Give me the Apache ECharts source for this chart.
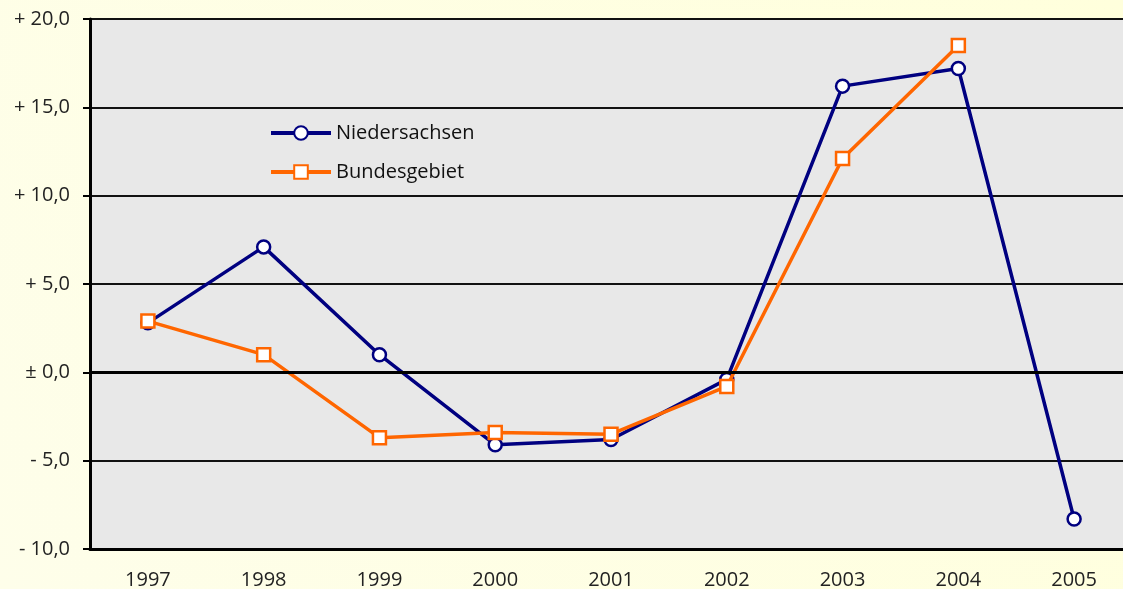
<!DOCTYPE html>
<html>
<head>
<meta charset="utf-8">
<script src="https://cdn.jsdelivr.net/npm/echarts@6/dist/echarts.min.js"></script>
<style>
  html, body { margin: 0; padding: 0; }
  #chart { width: 1123px; height: 589px; }
</style>
</head>
<body>
<div id="chart"></div>
<script>
// Jahre und Veränderungsraten (%)
var years = ['1997', '1998', '1999', '2000', '2001', '2002', '2003', '2004', '2005'];
var niedersachsen = [2.8, 7.1, 1.0, -4.1, -3.8, -0.4, 16.2, 17.2, -8.3];
var bundesgebiet = [2.9, 1.0, -3.7, -3.4, -3.5, -0.8, 12.1, 18.5, null];
var yTicks = { '20': '+ 20,0', '15': '+ 15,0', '10': '+ 10,0', '5': '+ 5,0', '0': '± 0,0', '-5': '- 5,0', '-10': '- 10,0' };

var font = '"Open Sans", "Noto Sans", sans-serif';
var chart = echarts.init(document.getElementById('chart'));

chart.setOption({
  backgroundColor: {
    type: 'linear', x: 0, y: 1, x2: 1, y2: 0,
    colorStops: [
      { offset: 0, color: '#FEFEEA' },
      { offset: 1, color: '#FFFFDC' }
    ]
  },
  textStyle: { fontFamily: font },
  animation: false,
  grid: {
    left: 90, top: 19, width: 1042, height: 530,
    outerBoundsMode: 'none',
    containLabel: false,
    show: true, backgroundColor: '#E8E8E8', borderWidth: 0
  },
  legend: {
    orient: 'vertical',
    left: 264,
    top: 118,
    itemWidth: 60,
    itemHeight: 17,
    itemGap: 19,
    lineStyle: { width: 4 },
    textStyle: { fontSize: 20, color: '#111', fontFamily: font },
    data: ['Niedersachsen', 'Bundesgebiet']
  },
  xAxis: {
    type: 'category',
    data: years,
    boundaryGap: true,
    axisLine: { onZero: false, lineStyle: { color: '#000', width: 3 } },
    axisTick: { show: false },
    axisLabel: { color: '#222', fontSize: 20, margin: 21 },
    splitLine: { show: false }
  },
  yAxis: {
    type: 'value',
    min: -10,
    max: 20,
    interval: 5,
    axisLine: { show: true, lineStyle: { color: '#000', width: 3 } },
    axisTick: { show: true, inside: false, length: 7, lineStyle: { color: '#000', width: 2 } },
    axisLabel: {
      color: '#222', fontSize: 20, margin: 20,
      formatter: function (v) { return yTicks[String(v)]; }
    },
    splitLine: { show: true, lineStyle: { color: '#111', width: 2 } }
  },
  series: [
    {
      name: 'Niedersachsen',
      type: 'line',
      data: niedersachsen,
      z: 3,
      symbol: 'circle',
      symbolSize: 13,
      lineStyle: { color: '#000080', width: 3.5 },
      itemStyle: { color: '#FFFFFF', borderColor: '#000080', borderWidth: 2.5 },
      markLine: {
        silent: true,
        symbol: 'none',
        label: { show: false },
        lineStyle: { color: '#000', width: 3, type: 'solid' },
        data: [{ yAxis: 0 }]
      }
    },
    {
      name: 'Bundesgebiet',
      type: 'line',
      data: bundesgebiet,
      z: 4,
      symbol: 'rect',
      symbolSize: 13,
      lineStyle: { color: '#FF6600', width: 3.5 },
      itemStyle: { color: '#FFFFFF', borderColor: '#FF6600', borderWidth: 2.5 }
    }
  ]
});
</script>
</body>
</html>
